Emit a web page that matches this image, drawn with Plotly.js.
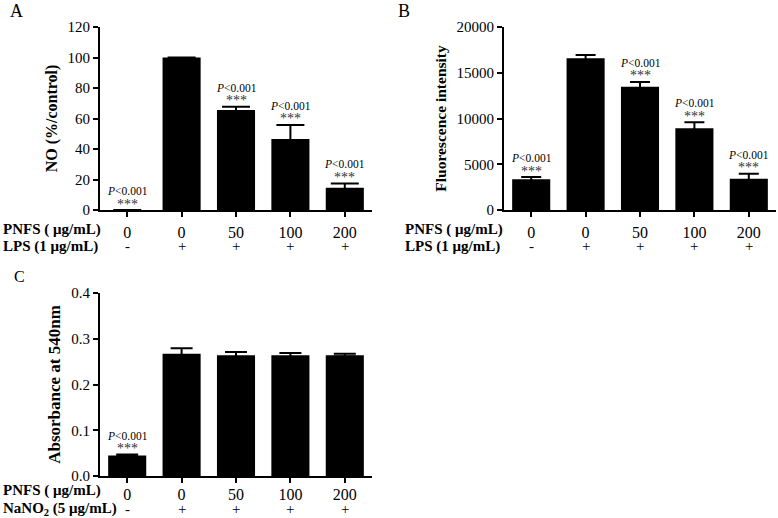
<!DOCTYPE html>
<html>
<head>
<meta charset="utf-8">
<script src="https://cdn.plot.ly/plotly-3.0.1.min.js"></script>
<style>html,body{margin:0;padding:0;background:#fff;}#chart{width:778px;height:518px;}</style>
</head>
<body>
<div id="chart"></div>
<script>
// ---- data ----
const pnfsLabels = ["0", "0", "50", "100", "200"];
const lpsSigns = ["-", "+", "+", "+", "+"];
const nano2Signs = ["-", "+", "+", "+", "+"];

const noValues = [0, 100, 65.5, 46.5, 14.6];
const noErrors = [0, 0, 2.2, 9.3, 2.8];
const noSig = [true, false, true, true, true];

const fluoValues = [3350, 16580, 13480, 8930, 3420];
const fluoErrors = [250, 360, 510, 650, 550];
const fluoSig = [true, false, true, true, true];

const absValues = [0.045, 0.267, 0.264, 0.264, 0.264];
const absErrors = [0.002, 0.012, 0.007, 0.005, 0.003];
const absSig = [true, false, false, false, false];

const pText = "<i>P</i><0.001";
const starText = "***";

// ---- build ----
const serif = "Liberation Serif, Times New Roman, serif";
const idx = pnfsLabels.map((_, i) => i);

function barTrace(vals, errs, xa, ya, capw) {
  return {
    type: "bar", x: idx, y: vals, xaxis: xa, yaxis: ya,
    width: 0.7, marker: {color: "#000", line: {width: 0}},
    error_y: {type: "data", array: errs, visible: true, color: "#000", thickness: 2, width: capw},
    hoverinfo: "skip"
  };
}

const data = [
  barTrace(noValues, noErrors, "x", "y", 14),
  barTrace(fluoValues, fluoErrors, "x2", "y2", 10),
  barTrace(absValues, absErrors, "x3", "y3", 11)
];

function xAxis(domain, anchor, standoff) {
  return {
    domain: domain, anchor: anchor, range: [-0.5, 4.5],
    tickmode: "array", tickvals: idx, ticktext: pnfsLabels,
    ticks: "outside", ticklen: 5, tickwidth: 2, tickcolor: "#000",
    ticklabelstandoff: standoff,
    showline: true, linewidth: 2, linecolor: "#000",
    showgrid: false, zeroline: false, fixedrange: true,
    tickfont: {family: serif, size: 16, color: "#000"}
  };
}
function yAxis(domain, anchor, range, dtick, fmt, title, tsize) {
  return {
    domain: domain, anchor: anchor, range: range, dtick: dtick, tick0: 0, tickformat: fmt,
    ticks: "outside", ticklen: 5, tickwidth: 2, tickcolor: "#000",
    showline: true, linewidth: 2, linecolor: "#000",
    showgrid: false, zeroline: false, fixedrange: true,
    tickfont: {family: serif, size: 15, color: "#000"},
    title: {text: "<b>" + title + "</b>", font: {family: serif, size: tsize, color: "#000"}, standoff: 6}
  };
}

const W = 778, H = 518;
const px = v => v / W;
const py = v => (H - v) / H;

const annotations = [];
function sigAnn(vals, errs, sig, xa, ya) {
  sig.forEach((s, i) => {
    if (!s) return;
    const top = vals[i] + errs[i];
    annotations.push({xref: xa, yref: ya, x: i, y: top, text: pText, showarrow: false,
      yanchor: "middle", yshift: 19, font: {family: serif, size: 11.5, color: "#000"}});
    annotations.push({xref: xa, yref: ya, x: i, y: top, text: starText, showarrow: false,
      yanchor: "middle", yshift: 6, font: {family: serif, size: 14, color: "#333"}});
  });
}
sigAnn(noValues, noErrors, noSig, "x", "y");
sigAnn(fluoValues, fluoErrors, fluoSig, "x2", "y2");
sigAnn(absValues, absErrors, absSig, "x3", "y3");

function signRow(signs, xa, yPix) {
  signs.forEach((s, i) => {
    annotations.push({xref: xa, yref: "paper", x: i, y: py(yPix), text: s, showarrow: false,
      yanchor: "middle", borderpad: 0, font: {family: serif, size: 15, color: "#000"}});
  });
}
signRow(lpsSigns, "x", 246);
signRow(lpsSigns, "x2", 246);
signRow(nano2Signs, "x3", 509);

function rowLabel(text, xPix, yPix) {
  annotations.push({xref: "paper", yref: "paper", x: px(xPix), y: py(yPix), text: "<b>" + text + "</b>",
    showarrow: false, xanchor: "left", yanchor: "middle", borderpad: 0, font: {family: serif, size: 15, color: "#000"}});
}
rowLabel("PNFS ( μg/mL)", 2, 229);
rowLabel("LPS (1 μg/mL)", 2, 246);
rowLabel("PNFS ( μg/mL)", 404, 229);
rowLabel("LPS (1 μg/mL)", 404, 246);
rowLabel("PNFS ( μg/mL)", 2, 490);
rowLabel("NaNO<sub>2</sub> (5 μg/mL)", 2, 509);

function panelLabel(t, xPix, yPix, size) {
  annotations.push({xref: "paper", yref: "paper", x: px(xPix), y: py(yPix), text: t, showarrow: false,
    xanchor: "left", yanchor: "middle", font: {family: serif, size: size, color: "#000"}});
}
panelLabel("A", 8, 11, 18);
panelLabel("B", 396, 11, 18);
panelLabel("C", 12, 276, 16);

const layout = {
  width: W, height: H, margin: {l: 0, r: 0, t: 0, b: 0},
  paper_bgcolor: "#fff", plot_bgcolor: "#fff", showlegend: false,
  font: {family: serif, color: "#000"},
  xaxis: xAxis([px(100), px(372)], "y", 2),
  yaxis: yAxis([py(210), py(27)], "x", [0, 120], 20, "d", "NO (%/control)", 16),
  xaxis2: xAxis([px(504), px(776)], "y2", 2),
  yaxis2: yAxis([py(210), py(27)], "x2", [0, 20000], 5000, "d", "Fluorescence intensity", 15.5),
  xaxis3: xAxis([px(100), px(372)], "y3", -2),
  yaxis3: yAxis([py(476), py(293)], "x3", [0, 0.4], 0.1, ".1f", "Absorbance at 540nm", 17),
  annotations: annotations
};

Plotly.newPlot("chart", data, layout, {staticPlot: true, displayModeBar: false});
</script>
</body>
</html>
